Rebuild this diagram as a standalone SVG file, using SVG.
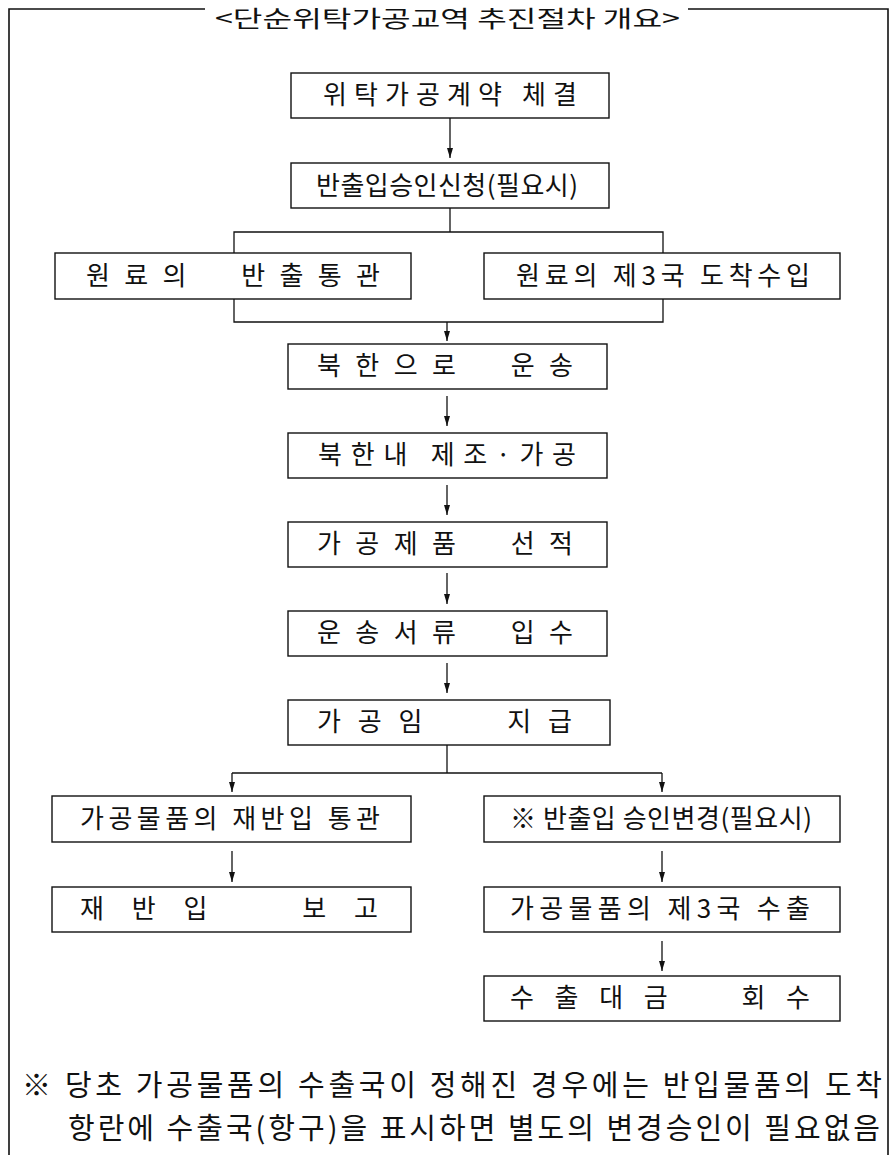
<svg xmlns="http://www.w3.org/2000/svg" width="893" height="1155" viewBox="0 0 893 1155">
  <style>
    .box { fill: #ffffff; stroke: #111111; stroke-width: 1.4; }
    .frame { fill: none; stroke: #111111; stroke-width: 1.6; }
    .link { fill: none; stroke: #111111; stroke-width: 1.3; }
    .lbl { font-family: "Noto Sans CJK KR", "Noto Sans", sans-serif; font-size: 26px; fill: #111111; }
    .title { font-family: "Noto Sans CJK KR", "Noto Sans", sans-serif; font-size: 23px; fill: #111111; }
    .note { font-family: "Noto Sans CJK KR", "Noto Sans", sans-serif; font-size: 29px; fill: #111111; }
  </style>
  <defs>
    <marker id="arrow" viewBox="0 0 10 10" refX="10" refY="5" markerWidth="10" markerHeight="10" markerUnits="userSpaceOnUse" orient="auto">
      <path d="M0,2 L10,5 L0,8 Z" fill="#111111"/>
    </marker>
  </defs>

  <rect width="893" height="1155" fill="#ffffff"/>

  <!-- outer frame with the heading set into the top edge -->
  <g id="frame">
    <polyline class="frame" points="205,9 9,9 9,1155"/>
    <polyline class="frame" points="688,9 888,9 888,1155"/>
    <text class="title" x="215" y="27" textLength="465" lengthAdjust="spacingAndGlyphs">&lt;단순위탁가공교역 추진절차 개요&gt;</text>
  </g>

  <!-- connectors -->
  <g id="connectors">
    <line class="link" x1="450" y1="118" x2="450" y2="158" marker-end="url(#arrow)"/>
    <line class="link" x1="450" y1="208" x2="450" y2="232"/>
    <polyline class="link" points="234,253 234,232 663,232 663,253"/>
    <polyline class="link" points="234,299 234,322 663,322 663,299"/>
    <line class="link" x1="447" y1="322" x2="447" y2="341" marker-end="url(#arrow)"/>
    <line class="link" x1="447" y1="396" x2="447" y2="426" marker-end="url(#arrow)"/>
    <line class="link" x1="447" y1="485" x2="447" y2="515" marker-end="url(#arrow)"/>
    <line class="link" x1="447" y1="573" x2="447" y2="604" marker-end="url(#arrow)"/>
    <line class="link" x1="447" y1="663" x2="447" y2="693" marker-end="url(#arrow)"/>
    <line class="link" x1="447" y1="745" x2="447" y2="773"/>
    <line class="link" x1="232" y1="773" x2="662" y2="773"/>
    <line class="link" x1="232" y1="773" x2="232" y2="792" marker-end="url(#arrow)"/>
    <line class="link" x1="662" y1="773" x2="662" y2="792" marker-end="url(#arrow)"/>
    <line class="link" x1="232" y1="851" x2="232" y2="882" marker-end="url(#arrow)"/>
    <line class="link" x1="662" y1="851" x2="662" y2="882" marker-end="url(#arrow)"/>
    <line class="link" x1="662" y1="941" x2="662" y2="971" marker-end="url(#arrow)"/>
  </g>

  <!-- process steps -->
  <g id="contract">
    <rect class="box" x="291" y="73" width="318" height="45"/>
    <text class="lbl" x="323" y="104" textLength="254" lengthAdjust="spacing">위탁가공계약 체결</text>
  </g>
  <g id="approval">
    <rect class="box" x="291" y="163" width="318" height="45"/>
    <text class="lbl" x="316" y="195" textLength="262" lengthAdjust="spacing">반출입승인신청(필요시)</text>
  </g>
  <g id="export-clearance">
    <rect class="box" x="55" y="253" width="356" height="46"/>
    <text class="lbl" x="86" y="285" textLength="294" lengthAdjust="spacing" xml:space="preserve">원료의  반출통관</text>
  </g>
  <g id="third-country-import">
    <rect class="box" x="484" y="253" width="356" height="46"/>
    <text class="lbl" x="516" y="285" textLength="294" lengthAdjust="spacing">원료의 제3국 도착수입</text>
  </g>
  <g id="shipping-north">
    <rect class="box" x="288" y="344" width="319" height="45"/>
    <text class="lbl" x="317" y="375" textLength="256" lengthAdjust="spacing" xml:space="preserve">북한으로  운송</text>
  </g>
  <g id="manufacturing">
    <rect class="box" x="288" y="433" width="319" height="45"/>
    <text class="lbl" x="318" y="464" textLength="258" lengthAdjust="spacing">북한내 제조·가공</text>
  </g>
  <g id="loading">
    <rect class="box" x="288" y="522" width="319" height="45"/>
    <text class="lbl" x="317" y="553" textLength="256" lengthAdjust="spacing" xml:space="preserve">가공제품  선적</text>
  </g>
  <g id="documents">
    <rect class="box" x="288" y="611" width="319" height="45"/>
    <text class="lbl" x="317" y="642" textLength="256" lengthAdjust="spacing" xml:space="preserve">운송서류  입수</text>
  </g>
  <g id="payment">
    <rect class="box" x="288" y="700" width="322" height="45"/>
    <text class="lbl" x="317" y="731" textLength="255" lengthAdjust="spacing" xml:space="preserve">가공임   지급</text>
  </g>
  <g id="reimport-clearance">
    <rect class="box" x="52" y="796" width="359" height="46"/>
    <text class="lbl" x="80" y="828" textLength="300" lengthAdjust="spacing">가공물품의 재반입 통관</text>
  </g>
  <g id="approval-change">
    <rect class="box" x="484" y="796" width="356" height="46"/>
    <text class="lbl" x="510" y="828" textLength="302" lengthAdjust="spacing">※ 반출입 승인변경(필요시)</text>
  </g>
  <g id="reimport-report">
    <rect class="box" x="52" y="887" width="359" height="45"/>
    <text class="lbl" x="80" y="918" textLength="298" lengthAdjust="spacing" xml:space="preserve">재반입  보고</text>
  </g>
  <g id="third-country-export">
    <rect class="box" x="484" y="887" width="356" height="45"/>
    <text class="lbl" x="510" y="918" textLength="300" lengthAdjust="spacing">가공물품의 제3국 수출</text>
  </g>
  <g id="proceeds">
    <rect class="box" x="484" y="976" width="356" height="45"/>
    <text class="lbl" x="510" y="1007" textLength="300" lengthAdjust="spacing" xml:space="preserve">수출대금  회수</text>
  </g>

  <!-- footnote -->
  <g id="footnote">
    <text class="note" x="22" y="1096" textLength="860" lengthAdjust="spacing">※ 당초 가공물품의 수출국이 정해진 경우에는 반입물품의 도착</text>
    <text class="note" x="68" y="1139" textLength="812" lengthAdjust="spacing">항란에 수출국(항구)을 표시하면 별도의 변경승인이 필요없음</text>
  </g>
</svg>
